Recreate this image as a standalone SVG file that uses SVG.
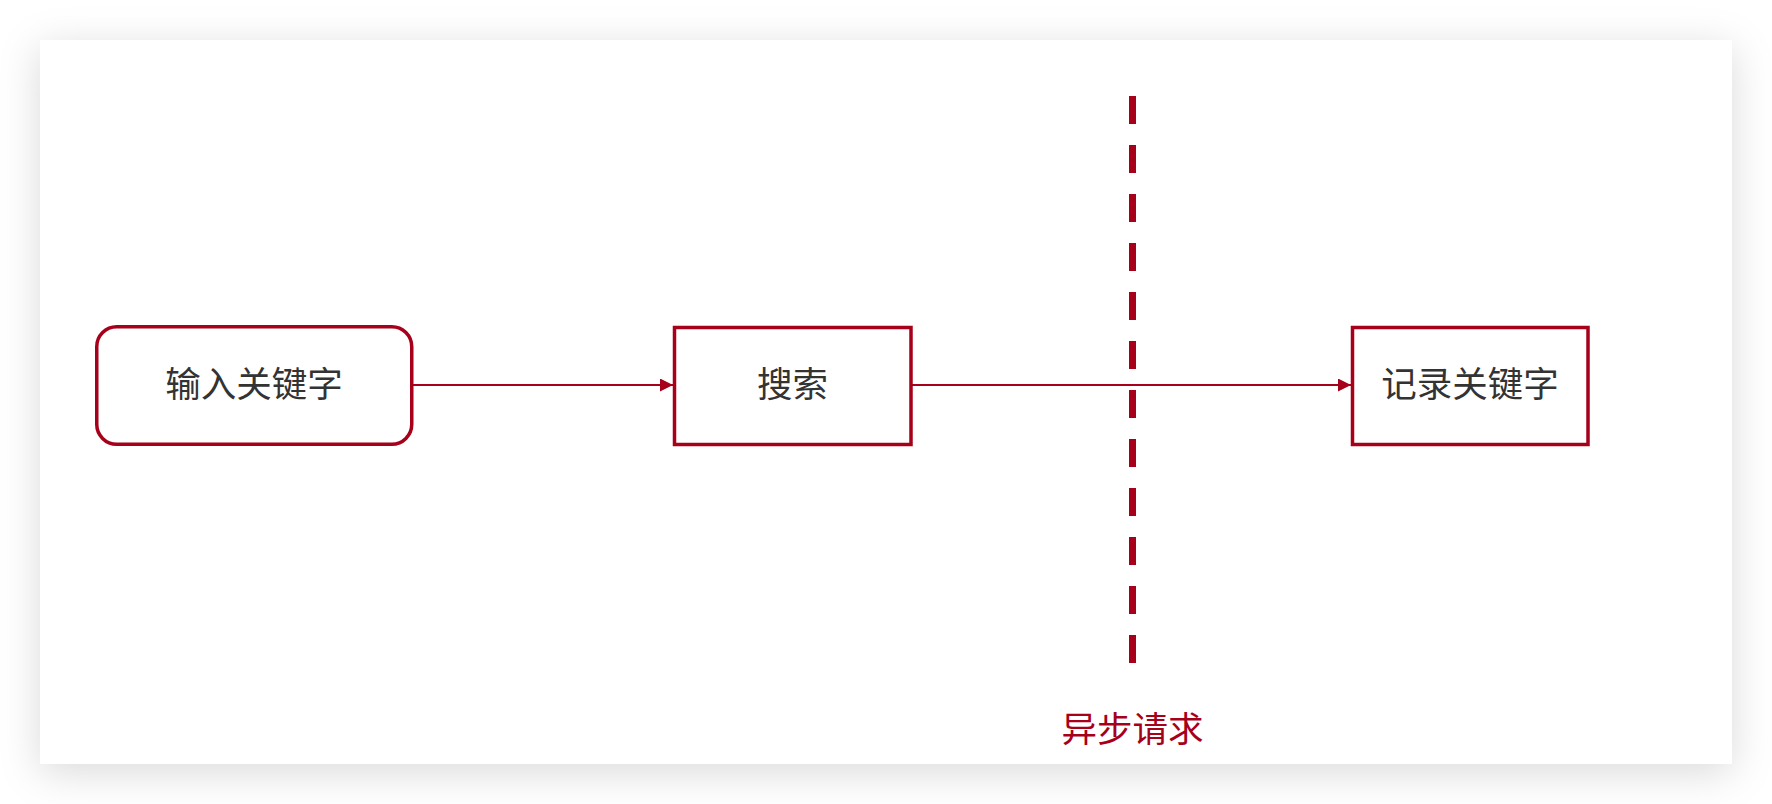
<svg xmlns="http://www.w3.org/2000/svg" width="1772" height="804" viewBox="0 0 1772 804">
  <defs>
    <filter id="shadow" x="-10%" y="-20%" width="120%" height="140%">
      <feDropShadow dx="0" dy="8" stdDeviation="20" flood-color="#000" flood-opacity="0.15"/>
    </filter>
    <marker id="arrow" viewBox="0 0 13 13" refX="13" refY="6.5" markerWidth="13" markerHeight="13" markerUnits="userSpaceOnUse" orient="auto">
      <path d="M0,0 L13,6.5 L0,13 Z" fill="#a6001a"/>
    </marker>
  </defs>
  <style>
    .node { fill: #ffffff; stroke: #a6001a; stroke-width: 3.5; }
    .label { font-family: "Noto Sans CJK SC", "Noto Sans", sans-serif; font-size: 35.5px; fill: #333333; text-anchor: middle; }
    .edge { stroke: #a6001a; stroke-width: 2; fill: none; }
    .sep { stroke: #a6001a; stroke-width: 7; stroke-dasharray: 28 21; fill: none; }
    .note { font-family: "Noto Sans CJK SC", "Noto Sans", sans-serif; font-size: 35.5px; fill: #a6001a; text-anchor: middle; }
  </style>
  <rect width="1772" height="804" fill="#ffffff"/>
  <rect x="40" y="40" width="1692" height="724" fill="#ffffff" filter="url(#shadow)"/>

  <g id="connectors">
    <line class="edge" x1="413" y1="385" x2="673" y2="385" marker-end="url(#arrow)"/>
    <line class="edge" x1="912" y1="385" x2="1351" y2="385" marker-end="url(#arrow)"/>
  </g>

  <g id="separator">
    <line class="sep" x1="1132.5" y1="96" x2="1132.5" y2="663"/>
  </g>

  <g id="node-input">
    <rect class="node" x="96.75" y="326.75" width="315" height="117.5" rx="20" ry="20"/>
    <text class="label" x="254" y="397">输入关键字</text>
  </g>

  <g id="node-search">
    <rect class="node" x="674.5" y="327.5" width="236.5" height="117" />
    <text class="label" x="792.5" y="397">搜索</text>
  </g>

  <g id="node-record">
    <rect class="node" x="1352.5" y="327.5" width="235.5" height="117" />
    <text class="label" x="1470" y="397">记录关键字</text>
  </g>

  <g id="note-async">
    <text class="note" x="1132.5" y="742">异步请求</text>
  </g>
</svg>
